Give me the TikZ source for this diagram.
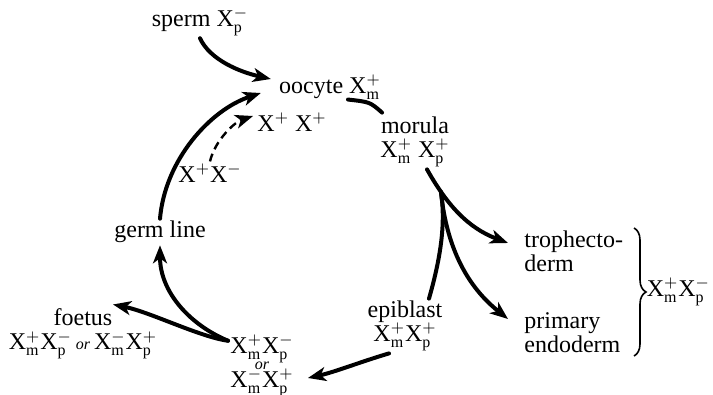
\documentclass[tikz,border=0pt]{standalone}
\usepackage{fontspec}
\setmainfont{Liberation Serif}
\usetikzlibrary{arrows.meta, positioning, decorations.pathreplacing}
\newcommand{\chrX}[2]{X$^{#1}_{\mathrm{#2}}$}

\begin{document}
\begin{tikzpicture}[
    x=0.5pt, y=-0.5pt,
    txt/.style={inner sep=1pt, align=center, font=\fontsize{12}{12}\selectfont},
    flow/.style={line width=2pt, line cap=round},
    >={Stealth[length=9pt, width=7pt, inset=2.5pt]}
]
\useasboundingbox (0,0) rectangle (713,395);

\node[txt] (sperm) at (200,22) {sperm \chrX{-}{p}};
\node[txt] (oocyte) at (330,87) {oocyte \chrX{+}{m}};
\node[txt] (xpp) at (292,122) {X$^{+}$ X$^{+}$};
\node[txt] (xpm) at (210,173) {X$^{+}$X$^{-}$};
\node[txt] (morula) at (415,142) {morula\\ \chrX{+}{m} \chrX{+}{p}};
\node[txt] (germ) at (160,232) {germ line};
\node[txt] (epiblast) at (405,326) {epiblast\\ \chrX{+}{m}\chrX{+}{p}};
\node[txt, align=left, anchor=west] (tropho) at (522,251) {trophecto-\\derm};
\node[txt, align=left, anchor=west] (endo) at (522,333) {primary\\endoderm};
\node[txt] (foetus) at (83,334) {foetus\\ \chrX{+}{m}\chrX{-}{p}\,{\itshape\footnotesize or}\,\chrX{-}{m}\chrX{+}{p}};
\node[txt] (mosaic) at (262,366) {\chrX{+}{m}\chrX{-}{p}\\[-4pt]{\itshape\footnotesize or}\\[-3pt]\chrX{-}{m}\chrX{+}{p}};

\coordinate (split) at (441,192);
\coordinate (bt) at (634,228);
\coordinate (bb) at (634,356);

\draw[flow, ->] (sperm.south) .. controls (210,60) and (240,72) .. ([xshift=-3pt,yshift=4pt]oocyte.west);
\draw[flow] ([xshift=9pt,yshift=1pt]oocyte.south) .. controls (370,102) .. ([xshift=2pt,yshift=1pt]morula.north west);
\draw[flow, ->] ([xshift=6pt]morula.south) .. controls (447,205) and (468,228) .. ([xshift=-7pt,yshift=4pt]tropho.west);
\draw[flow, ->] (split) .. controls (448,262) and (478,295) .. ([xshift=-7pt,yshift=7pt]endo.west);
\draw[flow] ([xshift=12pt]epiblast.north) .. controls (440,260) and (446,225) .. (split);
\draw[flow, ->] ([xshift=-8pt]epiblast.south) .. controls (360,362) and (335,372) .. ([xshift=6pt,yshift=-6pt]mosaic.east);
\draw[flow, ->] ([yshift=-4pt]mosaic.north west) .. controls (190,325) and (160,292) .. (germ.south);
\draw[flow, ->] ([yshift=-4pt]mosaic.north west) .. controls (200,337) and (150,312) .. ([xshift=15pt,yshift=1pt]foetus.north);
\draw[flow, ->] (germ.north) .. controls (165,160) and (210,110) .. ([xshift=-8pt,yshift=-3pt]oocyte.west);
\draw[line width=1.2pt, dash pattern=on 4pt off 2.5pt, ->] (xpm.north) .. controls (215,140) and (235,122) .. ([xshift=-1pt,yshift=3pt]xpp.west);

\draw[decorate, decoration={brace, amplitude=6pt}, line width=0.8pt] (bt) -- (bb)
    node[midway, right=5pt, txt] (somatic) {\chrX{+}{m}\chrX{-}{p}};
\end{tikzpicture}
\end{document}
